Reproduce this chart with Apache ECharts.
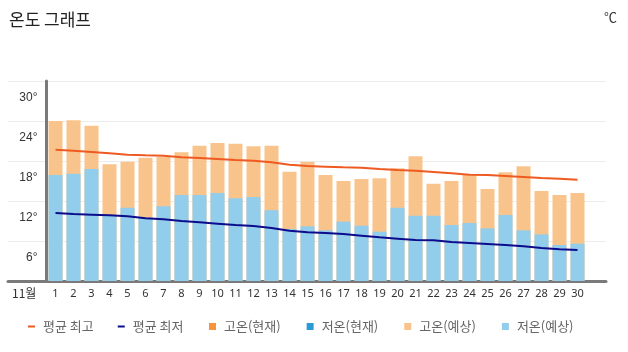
<!DOCTYPE html>
<html lang="ko">
    <head>
        <meta charset="UTF-8" />
        <title>온도 그래프</title>
        <script src="https://cdn.jsdelivr.net/npm/echarts@6/dist/echarts.min.js"></script>
        <style>
            body { margin: 0; background: #fff; }
        </style>
    </head>
    <body>
        <!-- Chart container -->
        <div id="main" style="width: 628px; height: 352px"></div>

        <script>
            // November days
            const days = ["1", "2", "3", "4", "5", "6", "7", "8", "9", "10", "11", "12", "13", "14", "15",
                "16", "17", "18", "19", "20", "21", "22", "23", "24", "25", "26", "27", "28", "29", "30"];

            // Forecast highs / lows (bars)
            const highForecast = [24.0, 24.1, 23.3, 17.5, 17.9, 18.5, 18.6, 19.3, 20.3, 20.7, 20.6, 20.2, 20.3, 16.4, 17.9,
                15.9, 15.0, 15.3, 15.4, 16.9, 18.7, 14.6, 15.0, 15.9, 13.8, 16.3, 17.2, 13.5, 12.9, 13.2];
            const lowForecast = [15.9, 16.1, 16.8, 9.8, 11.0, 9.5, 11.2, 12.9, 12.9, 13.2, 12.4, 12.6, 10.6, 7.8, 8.2,
                7.6, 8.9, 8.3, 7.4, 11.0, 9.8, 9.8, 8.4, 8.7, 7.9, 9.9, 7.6, 7.0, 5.4, 5.6];

            // Current highs / lows (no values yet)
            const highNow = [];
            const lowNow = [];

            // Average high / low (lines)
            const avgHigh = [19.7, 19.55, 19.35, 19.15, 18.95, 18.85, 18.8, 18.55, 18.45, 18.3, 18.15, 18.05, 17.8, 17.45, 17.25,
                17.15, 17.05, 17.0, 16.8, 16.65, 16.55, 16.35, 16.15, 15.95, 15.9, 15.75, 15.6, 15.45, 15.35, 15.2];
            const avgLow = [10.2, 10.05, 9.95, 9.85, 9.7, 9.4, 9.25, 9.0, 8.8, 8.6, 8.4, 8.25, 7.95, 7.55, 7.3,
                7.2, 7.05, 6.8, 6.55, 6.35, 6.15, 6.1, 5.85, 5.7, 5.55, 5.4, 5.2, 4.95, 4.75, 4.65];

            const krFont = "Noto Sans CJK KR";

            let myChart = echarts.init(document.getElementById("main"));

            const barBase = { type: "bar", xAxisIndex: 1, yAxisIndex: 1, barWidth: 14, barGap: "-100%" };
            const legendText = { fontSize: 13, color: "#666", fontFamily: krFont, padding: [0, 0, 0, 3] };

            let options = {
                animation: false,
                title: {
                    text: "온도 그래프",
                    left: 4,
                    top: 6,
                    textStyle: { fontSize: 17, fontWeight: "normal", color: "#222", fontFamily: krFont }
                },
                graphic: [
                    { type: "text", left: 604, top: 11, style: { text: "℃", fontSize: 13, fill: "#333", fontFamily: krFont } },
                    { type: "text", left: 12, top: 287, style: { text: "11월", fontSize: 12, fill: "#333", fontFamily: krFont } }
                ],
                legend: [
                    {
                        data: ["평균 최고", "평균 최저"],
                        left: 23,
                        top: 315,
                        icon: "rect",
                        itemWidth: 7,
                        itemHeight: 2,
                        itemGap: 24,
                        textStyle: legendText
                    },
                    {
                        data: ["고온(현재)", "저온(현재)", "고온(예상)", "저온(예상)"],
                        left: 204,
                        top: 315,
                        icon: "rect",
                        itemWidth: 7,
                        itemHeight: 7,
                        itemGap: 26,
                        textStyle: legendText
                    }
                ],
                grid: [
                    { left: 8, right: 22, top: 81, bottom: 71 },
                    { left: 46.5, width: 540, top: 81, bottom: 71 }
                ],
                xAxis: [
                    {
                        gridIndex: 0,
                        type: "category",
                        data: [""],
                        axisLine: { lineStyle: { color: "#7a7a7a", width: 3 } },
                        axisTick: { show: false },
                        axisLabel: { show: false }
                    },
                    {
                        gridIndex: 1,
                        type: "category",
                        data: days,
                        axisLine: { show: false },
                        axisTick: { show: false },
                        axisLabel: { interval: 0, margin: 7, fontSize: 11, color: "#333", fontFamily: "Noto Sans" }
                    }
                ],
                yAxis: [
                    {
                        gridIndex: 0,
                        type: "value",
                        min: 0,
                        max: 30,
                        interval: 6,
                        axisLine: { show: false },
                        axisTick: { show: false },
                        axisLabel: { show: false },
                        splitLine: { lineStyle: { color: "#ececec" } }
                    },
                    {
                        gridIndex: 1,
                        type: "value",
                        min: 0,
                        max: 30,
                        interval: 6,
                        splitLine: { show: false },
                        axisLine: { show: true, lineStyle: { color: "#7a7a7a", width: 3 } },
                        axisTick: { show: false },
                        axisLabel: {
                            formatter: (v) => (v ? v + "°" : ""),
                            margin: 9,
                            verticalAlign: "top",
                            padding: [11, 0, 0, 0],
                            fontSize: 12,
                            color: "#333"
                        }
                    }
                ],
                series: [
                    Object.assign({ name: "고온(현재)", data: highNow, itemStyle: { color: "#f7943c" } }, barBase),
                    Object.assign({ name: "저온(현재)", data: lowNow, itemStyle: { color: "#2b9bd8" } }, barBase),
                    Object.assign({ name: "고온(예상)", data: highForecast, itemStyle: { color: "#f9c48b" } }, barBase),
                    Object.assign({ name: "저온(예상)", data: lowForecast, itemStyle: { color: "#92cdeb" } }, barBase),
                    {
                        name: "평균 최고",
                        type: "line",
                        xAxisIndex: 1,
                        yAxisIndex: 1,
                        data: avgHigh,
                        symbol: "none",
                        lineStyle: { color: "#ee5a22", width: 2 },
                        itemStyle: { color: "#ee5a22" }
                    },
                    {
                        name: "평균 최저",
                        type: "line",
                        xAxisIndex: 1,
                        yAxisIndex: 1,
                        data: avgLow,
                        symbol: "none",
                        lineStyle: { color: "#0c0c8c", width: 2 },
                        itemStyle: { color: "#0c0c8c" }
                    }
                ]
            };

            myChart.setOption(options);
        </script>
    </body>
</html>
